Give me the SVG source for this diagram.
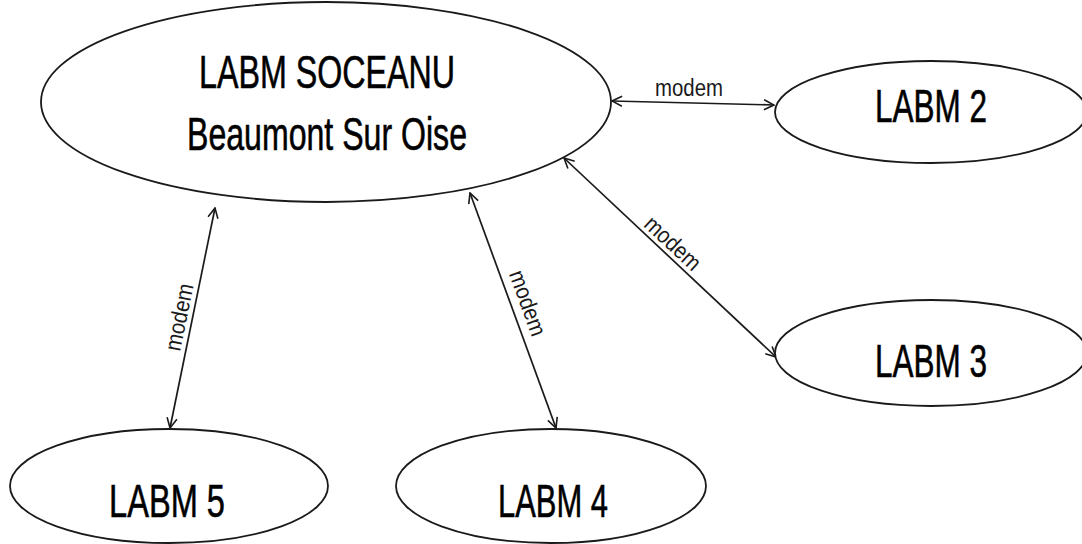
<svg xmlns="http://www.w3.org/2000/svg" width="1082" height="544" viewBox="0 0 1082 544">
<style>
.node{fill:#fff;stroke:#1a1a1a;stroke-width:1.8}
.lbl{font-family:"Liberation Sans",Arial,sans-serif;font-size:47px;fill:#000;stroke:#000;stroke-width:0.6;text-anchor:middle}
.edge{stroke:#1a1a1a;stroke-width:1.7;fill:none;marker-start:url(#ah);marker-end:url(#ah)}
.el{font-family:"Liberation Sans",Arial,sans-serif;font-size:23px;fill:#1a1a1a;text-anchor:middle}
</style>
<defs>
<marker id="ah" viewBox="0 0 12 12" refX="11" refY="6" markerWidth="12" markerHeight="12" markerUnits="userSpaceOnUse" orient="auto-start-reverse">
<path d="M1,1 L11,6 L1,11" fill="none" stroke="#1a1a1a" stroke-width="1.6"/>
</marker>
</defs>
<rect width="1082" height="544" fill="#fff"/>
<g id="connectors">
<g id="e2"><line class="edge" x1="612" y1="101" x2="774" y2="105"/><text class="el" x="689" y="96" textLength="68" lengthAdjust="spacingAndGlyphs">modem</text></g>
<g id="e3"><line class="edge" x1="564" y1="158" x2="776" y2="357"/><text class="el" transform="translate(673,243) rotate(43)" x="0" y="8" textLength="68" lengthAdjust="spacingAndGlyphs">modem</text></g>
<g id="e5"><line class="edge" x1="215" y1="208" x2="170" y2="428"/><text class="el" transform="translate(179,317) rotate(-78.4)" x="0" y="8" textLength="68" lengthAdjust="spacingAndGlyphs">modem</text></g>
<g id="e4"><line class="edge" x1="470" y1="193" x2="556" y2="428"/><text class="el" transform="translate(528,303) rotate(69.9)" x="0" y="8" textLength="68" lengthAdjust="spacingAndGlyphs">modem</text></g>
</g>
<g id="main">
<ellipse class="node" cx="326" cy="102" rx="285" ry="100"/>
<text class="lbl" x="327" y="88" textLength="256" lengthAdjust="spacingAndGlyphs">LABM SOCEANU</text>
<text class="lbl" x="327" y="150" textLength="280" lengthAdjust="spacingAndGlyphs">Beaumont Sur Oise</text>
</g>
<g id="labm2">
<ellipse class="node" cx="931" cy="112" rx="156" ry="51"/>
<text class="lbl" x="931" y="122" textLength="112" lengthAdjust="spacingAndGlyphs">LABM 2</text>
</g>
<g id="labm3">
<ellipse class="node" cx="931" cy="353" rx="156" ry="53"/>
<text class="lbl" x="931" y="377" textLength="112" lengthAdjust="spacingAndGlyphs">LABM 3</text>
</g>
<g id="labm5">
<ellipse class="node" cx="169" cy="486" rx="159" ry="57"/>
<text class="lbl" x="167" y="517" textLength="116" lengthAdjust="spacingAndGlyphs">LABM 5</text>
</g>
<g id="labm4">
<ellipse class="node" cx="551" cy="486" rx="155" ry="57"/>
<text class="lbl" x="553" y="517" textLength="110" lengthAdjust="spacingAndGlyphs">LABM 4</text>
</g>
</svg>
